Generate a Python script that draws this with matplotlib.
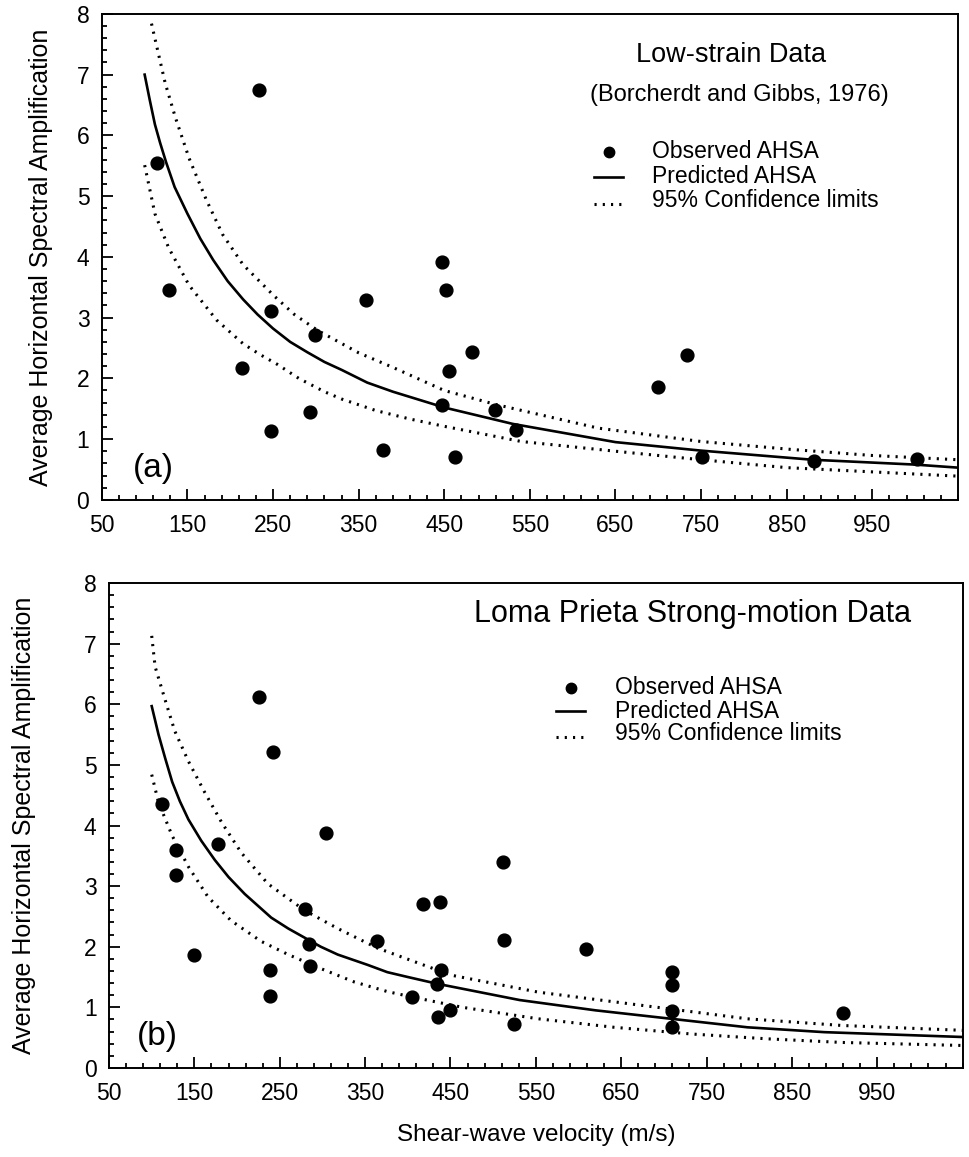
import matplotlib
matplotlib.use("Agg")
import matplotlib.pyplot as plt
from matplotlib.ticker import MultipleLocator, FixedLocator

plt.rcParams['font.family'] = ['Liberation Sans', 'DejaVu Sans']

# ---------------- data: panel (a) low-strain ----------------
a_obs_vs = [115, 129, 234, 214, 248, 248, 299, 293, 358, 378, 447, 452, 455, 447,
            463, 482, 509, 534, 700, 733, 751, 882, 1002]
a_obs_amp = [5.55, 3.46, 6.75, 2.17, 3.11, 1.13, 2.71, 1.44, 3.29, 0.82, 3.92, 3.45,
             2.12, 1.56, 0.70, 2.44, 1.48, 1.15, 1.86, 2.38, 0.71, 0.64, 0.67]

a_pred_vs = [100, 106, 112, 118, 125, 135, 150, 165, 180, 197, 215, 232, 250, 270,
             290, 310, 330, 360, 390, 450, 530, 650, 750, 880, 1000, 1050]
a_pred_amp = [7.0, 6.58, 6.18, 5.88, 5.56, 5.15, 4.71, 4.30, 3.95, 3.60, 3.30, 3.05,
              2.82, 2.60, 2.43, 2.27, 2.14, 1.93, 1.78, 1.52, 1.25, 0.95, 0.81, 0.66,
              0.58, 0.53]

a_up_vs = [108, 124, 136, 152, 172, 191, 215, 251, 275, 302, 350, 390, 450, 510,
           630, 750, 855, 950, 1050]
a_up_amp = [7.84, 6.86, 6.29, 5.62, 4.94, 4.37, 3.87, 3.36, 3.05, 2.79, 2.42, 2.18,
            1.80, 1.57, 1.18, 0.96, 0.83, 0.73, 0.66]

a_lo_vs = [100, 112, 128, 152, 184, 215, 235, 255, 280, 310, 330, 370, 410, 450,
           540, 650, 750, 850, 950, 1050]
a_lo_amp = [5.51, 4.71, 4.15, 3.53, 2.96, 2.57, 2.39, 2.23, 2.00, 1.78, 1.66, 1.47,
            1.33, 1.21, 0.96, 0.80, 0.66, 0.53, 0.46, 0.39]

# ---------------- data: panel (b) Loma Prieta ----------------
b_obs_vs = [112, 128, 128, 149, 178, 226, 242, 239, 239, 279, 284, 285, 304, 364,
            405, 418, 438, 439, 434, 435, 450, 512, 513, 609, 524, 710, 710, 710,
            710, 910]
b_obs_amp = [4.35, 3.60, 3.18, 1.87, 3.70, 6.12, 5.21, 1.62, 1.18, 2.63, 2.05, 1.68,
             3.87, 2.10, 1.17, 2.70, 2.73, 1.61, 1.38, 0.84, 0.96, 3.40, 2.11, 1.97,
             0.72, 1.59, 1.37, 0.94, 0.68, 0.91]

b_pred_vs = [100, 108, 116, 124, 133, 143, 158, 174, 190, 209, 240, 260, 279, 298,
             318, 353, 376, 400, 434, 531, 620, 709, 798, 888, 1050]
b_pred_amp = [5.97, 5.50, 5.10, 4.72, 4.40, 4.10, 3.75, 3.43, 3.15, 2.87, 2.48, 2.30,
              2.15, 2.00, 1.87, 1.70, 1.58, 1.50, 1.39, 1.12, 0.95, 0.81, 0.67, 0.59,
              0.51]

b_up_vs = [100, 104, 116, 127, 143, 162, 182, 205, 236, 279, 318, 364, 451, 553,
           642, 709, 798, 909, 1050]
b_up_amp = [7.13, 6.62, 6.06, 5.56, 5.06, 4.55, 4.05, 3.55, 3.04, 2.60, 2.30, 1.98,
            1.53, 1.25, 1.09, 0.97, 0.81, 0.70, 0.62]

b_lo_vs = [100, 108, 124, 143, 166, 193, 228, 260, 298, 337, 376, 405, 464, 553,
           642, 732, 821, 909, 1050]
b_lo_amp = [4.84, 4.38, 3.83, 3.32, 2.82, 2.43, 2.09, 1.87, 1.64, 1.42, 1.26, 1.17,
            1.00, 0.81, 0.67, 0.56, 0.48, 0.42, 0.37]

# short links drawn between coincident stations in (b)
b_link_vs = [438, 710, 710]
b_link_lo = [1.38, 1.37, 0.68]
b_link_hi = [1.61, 1.59, 0.94]

x_ticks = [50, 150, 250, 350, 450, 550, 650, 750, 850, 950]
x_ticklabels = ['50', '150', '250', '350', '450', '550', '650', '750', '850', '950']
y_ticks = [0, 1, 2, 3, 4, 5, 6, 7, 8]

legend_labels = ['Observed AHSA', 'Predicted AHSA', '95% Confidence limits']

fig = plt.figure(figsize=(9.7, 11.57), dpi=100)
ax_a = fig.add_axes([0.105, 0.568, 0.8825, 0.420])
ax_b = fig.add_axes([0.1124, 0.077, 0.880, 0.419])

dot_style = (0, (0.7, 2.0))
FS_TICK = 16.5
FS_LAB = 16.5


def style_axis(ax, ylab_x):
    ax.set_xlim(50, 1050)
    ax.set_ylim(0, 8)
    ax.xaxis.set_major_locator(FixedLocator(x_ticks))
    ax.set_xticklabels(x_ticklabels)
    ax.xaxis.set_minor_locator(MultipleLocator(20, offset=10))
    ax.yaxis.set_major_locator(FixedLocator(y_ticks))
    ax.yaxis.set_minor_locator(MultipleLocator(0.2))
    ax.tick_params(which='major', direction='in', length=8, width=1.3,
                   labelsize=FS_TICK, top=False, right=False)
    ax.tick_params(which='minor', direction='in', length=3.5, width=1.3,
                   top=False, right=False)
    ax.tick_params(axis='x', which='major', pad=10)
    ax.tick_params(axis='y', which='major', pad=9)
    for s in ax.spines.values():
        s.set_linewidth(1.4)
        s.set_color('black')
    ax.set_ylabel('Average Horizontal Spectral Amplification', fontsize=18)
    ax.yaxis.set_label_coords(ylab_x, 0.5)


def draw_panel(ax, obs_vs, obs_amp, pvs, pamp, uvs, uamp, lvs, lamp):
    ax.scatter(obs_vs, obs_amp, s=85, color='black', zorder=4, clip_on=False)
    ax.plot(pvs, pamp, color='black', lw=1.9, zorder=3)
    ax.plot(uvs, uamp, color='black', lw=2.2, ls=dot_style, zorder=3)
    ax.plot(lvs, lamp, color='black', lw=2.2, ls=dot_style, zorder=3)


def draw_legend(ax, xm, xt, ys):
    tr = ax.transAxes
    ax.plot([xm], [ys[0]], 'o', color='black', ms=7.5, transform=tr, clip_on=False)
    ax.plot([xm - 0.017, xm + 0.017], [ys[1], ys[1]], color='black', lw=1.9,
            transform=tr)
    ax.plot([xm - 0.017, xm + 0.017], [ys[2] - 0.006, ys[2] - 0.006], color='black',
            lw=2.2, ls=dot_style, transform=tr)
    for lab, y in zip(legend_labels, ys):
        ax.text(xt, y, lab, transform=tr, fontsize=FS_LAB, va='center', ha='left')


# panel (a)
style_axis(ax_a, -0.057)
draw_panel(ax_a, a_obs_vs, a_obs_amp, a_pred_vs, a_pred_amp, a_up_vs, a_up_amp,
           a_lo_vs, a_lo_amp)
ax_a.text(0.735, 0.916, 'Low-strain Data', transform=ax_a.transAxes, fontsize=19.5,
          ha='center', va='center')
ax_a.text(0.745, 0.833, '(Borcherdt and Gibbs, 1976)', transform=ax_a.transAxes,
          fontsize=17, ha='center', va='center')
draw_legend(ax_a, 0.592, 0.643, [0.716, 0.665, 0.615])
ax_a.text(0.06, 0.064, '(a)', transform=ax_a.transAxes, fontsize=24,
          ha='center', va='center')

# panel (b)
style_axis(ax_b, -0.085)
draw_panel(ax_b, b_obs_vs, b_obs_amp, b_pred_vs, b_pred_amp, b_up_vs, b_up_amp,
           b_lo_vs, b_lo_amp)
ax_b.vlines(b_link_vs, b_link_lo, b_link_hi, color='black', lw=2, zorder=4)
ax_b.text(0.684, 0.936, 'Loma Prieta Strong-motion Data', transform=ax_b.transAxes,
          fontsize=22, ha='center', va='center')
draw_legend(ax_b, 0.541, 0.593, [0.784, 0.736, 0.689])
ax_b.text(0.057, 0.064, '(b)', transform=ax_b.transAxes, fontsize=24,
          ha='center', va='center')
ax_b.set_xlabel('Shear-wave velocity (m/s)', fontsize=17.5, labelpad=14)

fig.savefig('out.png', dpi=100, facecolor='white')
